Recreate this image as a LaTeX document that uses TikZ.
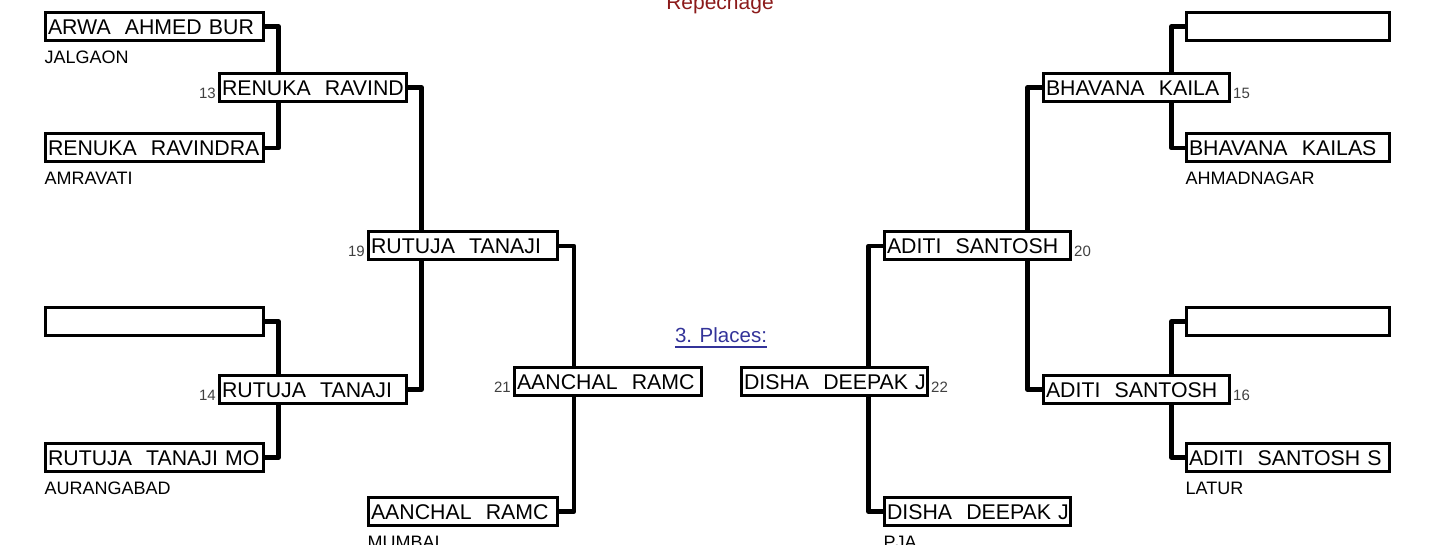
\documentclass[tikz,border=0pt]{standalone}
\usepackage{fontspec}
\setmainfont{Liberation Sans}
\usetikzlibrary{calc,backgrounds}
\definecolor{repred}{HTML}{8B1A1A}
\definecolor{placeblue}{HTML}{333399}
\definecolor{numgray}{HTML}{404040}
\begin{document}
\begin{tikzpicture}[x=1pt,y=-1pt,
  box/.style={draw, line width=3pt, fill=white, minimum height=28pt, inner xsep=2.5pt, inner ysep=0pt,
    align=left, text height=15.2pt, text depth=0pt, font=\fontsize{21.3}{24}\selectfont, anchor=center},
  colA/.style={box, text width=213pt},
  colB/.style={box, text width=182pt},
  colC/.style={box, text width=184pt},
  colR/.style={box, text width=198pt},
  colS/.style={box, text width=181pt},
  conn/.style={line width=4.6pt, line join=round},
  city/.style={font=\fontsize{18}{20}\selectfont, anchor=base west, inner sep=0pt},
  numE/.style={font=\fontsize{15}{17}\selectfont, text=numgray, inner sep=0pt, anchor=base east},
  numW/.style={font=\fontsize{15}{17}\selectfont, text=numgray, inner sep=0pt, anchor=base west},
]
\useasboundingbox (0,0) rectangle (1433,545);

% title texts
\node[font=\fontsize{21}{24}\selectfont, text=repred, inner sep=0pt, anchor=base] (rep) at (720,10) {Repechage};
\node[font=\fontsize{20.5}{24}\selectfont, text=placeblue, inner sep=0pt, anchor=base] (places) at (721,343) {3. Places:};
\draw[placeblue, line width=1.4pt] ([yshift=-4pt]places.base west) -- ([yshift=-4pt]places.base east);

% left side boxes
\node[colA] (a1) at (154.5,26.5) {ARWA~~AHMED~BUR};
\node[colA] (a2) at (154.5,148) {RENUKA~~RAVINDRA};
\node[colA] (a3) at (154.5,321.5) {};
\node[colA] (a4) at (154.5,457.5) {RUTUJA~~TANAJI~MO};
\node[colB] (b13) at (313,87.5) {RENUKA~~RAVIND};
\node[colB] (b14) at (313,389.5) {RUTUJA~~TANAJI};
\node[colC] (c19) at (463,246) {RUTUJA~~TANAJI};
\node[colC] (c4) at (463,511.5) {AANCHAL~~RAMC};
\node[colB] (d21) at (608,381.5) {AANCHAL~~RAMC};

% right side boxes
\node[colR] (r1) at (1288,26.5) {};
\node[colR] (r2) at (1288,148) {BHAVANA~~KAILAS};
\node[colR] (r3) at (1288,321.5) {};
\node[colR] (r4) at (1288,457.5) {ADITI~~SANTOSH~S};
\node[colS] (b15) at (1136.5,87.5) {BHAVANA~~KAILA};
\node[colS] (b16) at (1136.5,389.5) {ADITI~~SANTOSH};
\node[colS] (c20) at (977.5,246) {ADITI~~SANTOSH};
\node[colS] (c8) at (977.5,511.5) {DISHA~~DEEPAK~J};
\node[colS] (d22) at (834.5,381.5) {DISHA~~DEEPAK~J};

% connectors
\begin{scope}[on background layer]
\draw[conn] (a1.east) -- ++(13.5,0) |- (a2.east);
\draw[conn] (a3.east) -- ++(13.5,0) |- (a4.east);
\draw[conn] (b13.east) -- ++(13.5,0) |- (b14.east);
\draw[conn] (c19.east) -- ++(15,0) |- (c4.east);
\draw[conn] (r1.west) -- ++(-13.5,0) |- (r2.west);
\draw[conn] (r3.west) -- ++(-13.5,0) |- (r4.west);
\draw[conn] (b15.west) -- ++(-14.5,0) |- (b16.west);
\draw[conn] (c20.west) -- ++(-14.5,0) |- (c8.west);
\end{scope}

% cities
\node[city] (cJ) at ([xshift=0.5pt,yshift=-21.5pt]a1.south west) {JALGAON};
\node[city] (cA) at ([xshift=0.5pt,yshift=-21.5pt]a2.south west) {AMRAVATI};
\node[city] (cU) at ([xshift=0.5pt,yshift=-21.5pt]a4.south west) {AURANGABAD};
\node[city] (cM) at ([xshift=0.5pt,yshift=-21.5pt]c4.south west) {MUMBAI};
\node[city] (cH) at ([xshift=0.5pt,yshift=-21.5pt]r2.south west) {AHMADNAGAR};
\node[city] (cL) at ([xshift=0.5pt,yshift=-21.5pt]r4.south west) {LATUR};
\node[city] (cP) at ([xshift=0.5pt,yshift=-21.5pt]c8.south west) {PJA};

% match numbers
\node[numE] (n13) at ([xshift=-2pt,yshift=4.5pt]b13.south west) {13};
\node[numE] (n14) at ([xshift=-2pt,yshift=4.5pt]b14.south west) {14};
\node[numE] (n19) at ([xshift=-2pt,yshift=4.5pt]c19.south west) {19};
\node[numE] (n21) at ([xshift=-2pt,yshift=4.5pt]d21.south west) {21};
\node[numW] (n15) at ([xshift=2pt,yshift=4.5pt]b15.south east) {15};
\node[numW] (n16) at ([xshift=2pt,yshift=4.5pt]b16.south east) {16};
\node[numW] (n20) at ([xshift=2pt,yshift=4.5pt]c20.south east) {20};
\node[numW] (n22) at ([xshift=2pt,yshift=4.5pt]d22.south east) {22};
\end{tikzpicture}
\end{document}
